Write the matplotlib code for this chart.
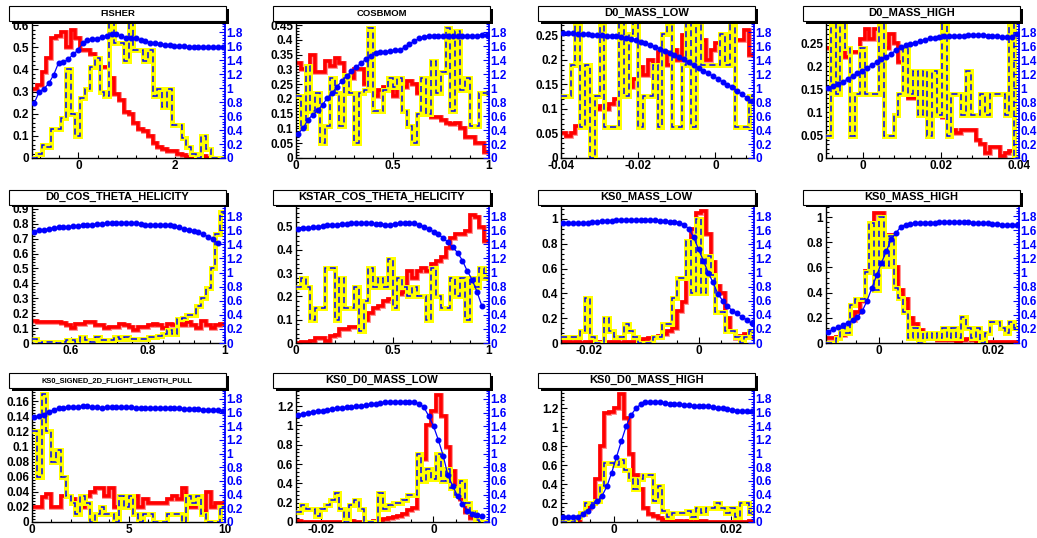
#%% IMPORTS
import numpy as np
import matplotlib
matplotlib.use('Agg')
import matplotlib.pyplot as plt
from matplotlib.patches import Rectangle
from matplotlib.ticker import FixedLocator, AutoMinorLocator, FuncFormatter

plt.rcParams['font.family'] = ['Liberation Sans', 'DejaVu Sans']

#%% CONSTANTS
W, H = 1037, 538
nan = np.nan

#%% DATA  (40 bins per histogram)
fisher_red = [0.31, 0.33, 0.39, 0.45, 0.54, 0.55, 0.57, 0.50, 0.58, 0.54, 0.49, 0.49, 0.47, 0.45, 0.41, 0.41, 0.36, 0.29, 0.26, 0.21,
              0.20, 0.16, 0.13, 0.12, 0.10, 0.07, 0.05, 0.04, 0.03, 0.03, 0.02, 0.015, 0.005, 0.0, 0.005, 0.01, 0.0, 0.0, 0.0, 0.0]
fisher_yel = [0.0, 0.02, 0.06, 0.05, 0.13, 0.13, 0.18, 0.40, 0.20, 0.10, 0.27, 0.31, 0.41, 0.45, 0.30, 0.28, 0.66, 0.52, 0.52, 0.44,
              0.66, 0.49, 0.49, 0.44, 0.49, 0.28, 0.31, 0.23, 0.31, 0.15, 0.15, 0.09, 0.05, 0.02, 0.0, 0.10, 0.04, 0.0, 0.0, 0.0]
fisher_eff = [0.79, 0.95, 0.99, 1.07, 1.19, 1.36, 1.37, 1.41, 1.48, 1.54, 1.64, 1.68, 1.70, 1.70, 1.73, 1.74, 1.77, 1.77, 1.74, 1.72,
              1.71, 1.71, 1.69, 1.67, 1.65, 1.64, 1.63, 1.62, 1.61, 1.60, 1.60, 1.60, 1.59, 1.59, 1.59, 1.59, 1.59, 1.59, 1.59, 1.59]

cosb_red = [0.32, 0.30, 0.30, 0.35, 0.29, 0.29, 0.33, 0.31, 0.34, 0.32, 0.27, 0.27, 0.30, 0.30, 0.25, 0.25, 0.21, 0.23, 0.24, 0.25,
            0.21, 0.24, 0.24, 0.26, 0.25, 0.22, 0.17, 0.18, 0.14, 0.14, 0.13, 0.12, 0.115, 0.12, 0.10, 0.07, 0.07, 0.05, 0.05, 0.02]
cosb_yel = [0.21, 0.10, 0.31, 0.16, 0.22, 0.05, 0.11, 0.27, 0.22, 0.11, 0.28, 0.22, 0.05, 0.22, 0.23, 0.44, 0.16, 0.16, 0.23, 0.27,
            0.24, 0.27, 0.16, 0.11, 0.05, 0.15, 0.27, 0.15, 0.33, 0.22, 0.29, 0.44, 0.16, 0.43, 0.23, 0.27, 0.11, 0.11, 0.22, 0.22]
cosb_eff = [0.35, 0.43, 0.55, 0.62, 0.68, 0.76, 0.86, 0.93, 1.02, 1.10, 1.17, 1.24, 1.30, 1.36, 1.41, 1.46, 1.50, 1.52, 1.52, 1.53,
            1.54, 1.55, 1.58, 1.63, 1.67, 1.71, 1.73, 1.75, 1.75, 1.74, 1.74, 1.75, 1.75, 1.74, 1.75, 1.75, 1.75, 1.75, 1.76, 1.76]

d0low_red = [0.05, 0.045, 0.05, 0.065, 0.075, 0.085, 0.095, 0.10, 0.105, 0.10, 0.11, 0.12, 0.145, 0.155, 0.145, 0.16, 0.185, 0.17, 0.20, 0.19,
             0.215, 0.215, 0.19, 0.22, 0.20, 0.25, 0.27, 0.22, 0.25, 0.24, 0.20, 0.22, 0.235, 0.23, 0.24, 0.26, 0.24, 0.24, 0.26, 0.21]
d0low_yel = [0.127, 0.127, 0.19, 0.317, 0.063, 0.19, 0.0, 0.127, 0.317, 0.063, 0.063, 0.063, 0.317, 0.127, 0.253, 0.317, 0.063, 0.127, 0.127, 0.19,
             0.063, 0.253, 0.317, 0.063, 0.063, 0.19, 0.317, 0.063, 0.317, 0.19, 0.19, 0.19, 0.19, 0.253, 0.19, 0.317, 0.063, 0.063, 0.063, 0.127]
d0low_eff = [1.78, 1.78, 1.78, 1.77, 1.77, 1.77, 1.76, 1.76, 1.76, 1.75, 1.75, 1.74, 1.73, 1.71, 1.70, 1.68, 1.66, 1.64, 1.62, 1.59,
             1.56, 1.53, 1.50, 1.47, 1.44, 1.41, 1.37, 1.33, 1.29, 1.25, 1.21, 1.17, 1.13, 1.09, 1.05, 1.01, 0.96, 0.91, 0.86, 0.81]

d0high_red = [0.24, 0.28, 0.24, 0.25, 0.22, 0.23, 0.23, 0.26, 0.28, 0.26, 0.28, 0.24, 0.24, 0.27, 0.25, 0.21, 0.18, 0.13, 0.13, 0.12,
              0.11, 0.11, 0.12, 0.10, 0.09, 0.08, 0.06, 0.055, 0.06, 0.06, 0.06, 0.04, 0.03, 0.01, 0.025, 0.025, 0.005, 0.01, 0.015, 0.0]
d0high_yel = [0.047, 0.33, 0.14, 0.33, 0.24, 0.047, 0.14, 0.24, 0.14, 0.14, 0.14, 0.33, 0.047, 0.047, 0.094, 0.14, 0.24, 0.14, 0.19, 0.094,
              0.19, 0.047, 0.19, 0.094, 0.33, 0.047, 0.14, 0.14, 0.094, 0.19, 0.094, 0.094, 0.14, 0.094, 0.14, 0.14, 0.14, 0.094, 0.33, 0.0]
d0high_eff = [1.00, 1.03, 1.06, 1.09, 1.13, 1.17, 1.21, 1.25, 1.29, 1.33, 1.37, 1.41, 1.45, 1.49, 1.54, 1.58, 1.61, 1.63, 1.65, 1.67,
              1.69, 1.71, 1.72, 1.73, 1.74, 1.74, 1.75, 1.75, 1.75, 1.76, 1.76, 1.76, 1.76, 1.75, 1.75, 1.74, 1.73, 1.73, 1.73, 1.77]

d0cos_red = [0.15, 0.14, 0.14, 0.14, 0.14, 0.14, 0.135, 0.12, 0.10, 0.13, 0.13, 0.14, 0.14, 0.12, 0.12, 0.10, 0.11, 0.11, 0.13, 0.12,
             0.11, 0.09, 0.11, 0.11, 0.12, 0.13, 0.12, 0.10, 0.13, 0.12, 0.13, 0.12, 0.14, 0.12, 0.10, 0.145, 0.12, 0.10, 0.12, 0.13]
d0cos_yel = [0.03, 0.0, 0.01, 0.01, 0.01, 0.0, 0.01, 0.02, 0.02, 0.01, 0.04, 0.02, 0.01, 0.04, 0.02, 0.02, 0.02, 0.04, 0.03, 0.04,
             0.03, 0.03, 0.025, 0.025, 0.04, 0.04, 0.05, 0.06, 0.09, 0.06, 0.16, 0.17, 0.19, 0.19, 0.25, 0.30, 0.37, 0.50, 0.73, 0.88]
d0cos_eff = [1.58, 1.60, 1.61, 1.62, 1.63, 1.64, 1.65, 1.65, 1.66, 1.66, 1.67, 1.67, 1.68, 1.69, 1.69, 1.70, 1.70, 1.71, 1.71, 1.71,
             1.70, 1.71, 1.69, 1.68, 1.68, 1.68, 1.68, 1.67, 1.67, 1.66, 1.64, 1.62, 1.61, 1.59, 1.57, 1.54, 1.51, 1.47, 1.42, nan]

kstar_red = [0.0, 0.005, 0.005, 0.01, 0.02, 0.02, 0.01, 0.03, 0.035, 0.06, 0.06, 0.07, 0.07, 0.07, 0.10, 0.13, 0.15, 0.16, 0.18, 0.19,
             0.20, 0.21, 0.22, 0.31, 0.28, 0.31, 0.32, 0.31, 0.34, 0.35, 0.37, 0.41, 0.45, 0.47, 0.47, 0.48, 0.55, 0.54, 0.50, 0.44]
kstar_yel = [0.24, 0.28, 0.24, 0.10, 0.15, 0.15, 0.32, 0.32, 0.10, 0.28, 0.15, 0.15, 0.24, 0.05, 0.18, 0.32, 0.24, 0.28, 0.24, 0.36,
             0.15, 0.28, 0.24, 0.20, 0.24, 0.20, 0.20, 0.10, 0.32, 0.20, 0.15, 0.15, 0.28, 0.20, 0.28, 0.10, 0.28, 0.24, 0.32, 0.28]
kstar_eff = [1.62, 1.63, 1.63, 1.64, 1.65, 1.66, 1.67, 1.68, 1.68, 1.69, 1.69, 1.70, 1.70, 1.70, 1.71, 1.70, 1.69, 1.69, 1.68, 1.68,
             1.69, 1.70, 1.70, 1.70, 1.70, 1.68, 1.65, 1.62, 1.58, 1.54, 1.49, 1.43, 1.36, 1.28, 1.17, 1.02, 0.90, 0.73, 0.53, nan]

ks0low_red = [0.01, 0.01, 0.0, 0.005, 0.0, 0.005, 0.01, 0.005, 0.01, 0.0, 0.005, 0.01, 0.0, 0.005, 0.01, 0.01, 0.02, 0.03, 0.04, 0.05,
              0.06, 0.07, 0.10, 0.12, 0.26, 0.33, 0.55, 0.92, 1.05, 1.06, 0.88, 0.65, 0.46, 0.40, 0.20, 0.10, 0.04, 0.06, 0.07, 0.05]
ks0low_yel = [0.05, 0.05, 0.05, 0.05, 0.10, 0.36, 0.05, 0.0, 0.0, 0.20, 0.10, 0.05, 0.05, 0.15, 0.10, 0.05, 0.0, 0.0, 0.0, 0.05,
              0.05, 0.15, 0.15, 0.36, 0.52, 0.52, 0.82, 0.40, 1.0, 0.40, 0.70, 0.55, 0.25, 0.25, 0.10, 0.10, 0.05, 0.0, 0.05, 0.10]
ks0low_eff = [1.70, 1.70, 1.70, 1.70, 1.71, 1.71, 1.72, 1.72, 1.73, 1.73, 1.73, 1.74, 1.74, 1.74, 1.74, 1.74, 1.74, 1.74, 1.74, 1.74,
              1.73, 1.73, 1.72, 1.72, 1.71, 1.68, 1.62, 1.50, 1.33, 1.17, 1.00, 0.86, 0.70, 0.60, 0.52, 0.46, 0.42, 0.37, 0.33, 0.28]

ks0high_red = [0.04, 0.04, 0.05, 0.06, 0.12, 0.18, 0.25, 0.33, 0.57, 0.88, 1.03, 1.03, 0.86, 0.86, 0.60, 0.42, 0.35, 0.20, 0.15, 0.10,
               0.08, 0.05, 0.04, 0.02, 0.02, 0.02, 0.02, 0.01, 0.02, 0.03, 0.02, 0.01, 0.01, 0.005, 0.01, 0.005, 0.01, 0.01, 0.01, 0.005]
ks0high_yel = [0.0, 0.0, 0.04, 0.12, 0.08, 0.30, 0.35, 0.35, 0.56, 0.95, 0.42, 1.0, 0.61, 0.85, 0.44, 0.36, 0.25, 0.04, 0.12, 0.0,
               0.08, 0.04, 0.08, 0.04, 0.12, 0.04, 0.12, 0.04, 0.21, 0.12, 0.04, 0.12, 0.0, 0.08, 0.17, 0.17, 0.12, 0.08, 0.17, 0.12]
ks0high_eff = [0.16, 0.20, 0.22, 0.25, 0.29, 0.32, 0.37, 0.45, 0.60, 0.78, 0.96, 1.14, 1.30, 1.47, 1.56, 1.65, 1.68, 1.69, 1.70, 1.71,
               1.71, 1.71, 1.71, 1.72, 1.72, 1.72, 1.72, 1.72, 1.72, 1.72, 1.71, 1.70, 1.70, 1.70, 1.69, 1.69, 1.68, 1.67, 1.67, 1.67]

pull_red = [0.02, 0.02, 0.033, 0.037, 0.02, 0.02, 0.035, 0.035, 0.03, 0.025, 0.02, 0.035, 0.04, 0.045, 0.045, 0.035, 0.045, 0.02, 0.03, 0.02,
            0.035, 0.035, 0.02, 0.03, 0.025, 0.025, 0.025, 0.025, 0.03, 0.035, 0.03, 0.045, 0.02, 0.02, 0.03, 0.015, 0.04, 0.02, 0.025, 0.025]
pull_yel = [0.12, 0.06, 0.17, 0.12, 0.08, 0.095, 0.06, 0.035, 0.025, 0.01, 0.035, 0.025, 0.0, 0.01, 0.02, 0.01, 0.01, 0.0, 0.035, 0.02,
            0.035, 0.01, 0.0, 0.01, 0.01, 0.0, 0.0, 0.0, 0.01, 0.01, 0.01, 0.0, 0.035, 0.025, 0.035, 0.01, 0.0, 0.0, 0.0, 0.02]
pull_eff = [1.53, 1.55, 1.57, 1.61, 1.64, 1.66, 1.67, 1.68, 1.68, 1.68, 1.69, 1.69, 1.68, 1.68, 1.67, 1.68, 1.68, 1.68, 1.68, 1.68,
            1.68, 1.67, 1.67, 1.67, 1.67, 1.67, 1.67, 1.66, 1.66, 1.66, 1.66, 1.65, 1.65, 1.65, 1.65, 1.64, 1.64, 1.64, 1.64, 1.63]

ksd0low_red = [0.01, 0.0, 0.005, 0.0, 0.0, 0.005, 0.0, 0.0, 0.005, 0.0, 0.0, 0.01, 0.005, 0.0, 0.0, 0.005, 0.01, 0.02, 0.03, 0.04,
               0.05, 0.06, 0.08, 0.12, 0.15, 0.45, 0.65, 1.0, 1.15, 1.32, 1.10, 0.78, 0.53, 0.35, 0.24, 0.10, 0.04, 0.01, 0.0, 0.0]
ksd0low_yel = [0.10, 0.18, 0.13, 0.13, 0.06, 0.13, 0.18, 0.23, 0.30, 0.13, 0.0, 0.18, 0.23, 0.13, 0.0, 0.0, 0.0, 0.30, 0.13, 0.18,
               0.20, 0.20, 0.23, 0.28, 0.28, 0.70, 0.42, 0.55, 0.45, 0.70, 0.42, 0.55, 0.35, 0.28, 0.42, 0.20, 0.10, 0.02, 0.0, 0.0]
ksd0low_eff = [1.57, 1.58, 1.60, 1.61, 1.62, 1.63, 1.64, 1.65, 1.66, 1.67, 1.68, 1.68, 1.69, 1.70, 1.71, 1.72, 1.73, 1.74, 1.75, 1.75,
               1.76, 1.76, 1.76, 1.76, 1.75, 1.73, 1.68, 1.55, 1.40, 1.20, 0.97, 0.68, 0.52, 0.38, 0.27, 0.16, 0.11, 0.10, 0.09, nan]

ksd0high_red = [0.0, 0.0, 0.0, 0.0, 0.08, 0.15, 0.20, 0.45, 0.80, 1.15, 1.16, 1.20, 1.35, 1.10, 0.72, 0.50, 0.35, 0.15, 0.08, 0.06,
                0.04, 0.02, 0.02, 0.01, 0.01, 0.0, 0.01, 0.0, 0.01, 0.01, 0.0, 0.0, 0.0, 0.0, 0.0, 0.0, 0.0, 0.0, 0.0, 0.01]
ksd0high_yel = [0.0, 0.0, 0.0, 0.05, 0.10, 0.20, 0.20, 0.22, 0.38, 0.62, 0.62, 0.60, 0.65, 0.55, 0.45, 0.35, 0.45, 0.50, 0.50, 0.22,
                0.38, 0.12, 0.05, 0.10, 0.10, 0.10, 0.12, 0.05, 0.15, 0.10, 0.15, 0.15, 0.20, 0.15, 0.10, 0.15, 0.05, 0.20, 0.20, 0.10]
ksd0high_eff = [0.07, 0.08, 0.08, 0.08, 0.11, 0.16, 0.23, 0.30, 0.38, 0.52, 0.72, 0.95, 1.18, 1.40, 1.56, 1.66, 1.72, 1.75, 1.76, 1.76,
                1.75, 1.74, 1.73, 1.72, 1.72, 1.71, 1.71, 1.70, 1.70, 1.69, 1.69, 1.68, 1.67, 1.66, 1.65, 1.64, 1.63, 1.62, 1.62, 1.62]

titles = ['FISHER', 'COSBMOM', 'D0_MASS_LOW', 'D0_MASS_HIGH',
          'D0_COS_THETA_HELICITY', 'KSTAR_COS_THETA_HELICITY', 'KS0_MASS_LOW', 'KS0_MASS_HIGH',
          'KS0_SIGNED_2D_FLIGHT_LENGTH_PULL', 'KS0_D0_MASS_LOW', 'KS0_D0_MASS_HIGH']
title_sizes = [6.8, 6.8, 8, 8, 8, 8, 8, 8, 5.4, 8, 8]
reds = [fisher_red, cosb_red, d0low_red, d0high_red, d0cos_red, kstar_red,
        ks0low_red, ks0high_red, pull_red, ksd0low_red, ksd0high_red]
yellows = [fisher_yel, cosb_yel, d0low_yel, d0high_yel, d0cos_yel, kstar_yel,
           ks0low_yel, ks0high_yel, pull_yel, ksd0low_yel, ksd0high_yel]
effs = [fisher_eff, cosb_eff, d0low_eff, d0high_eff, d0cos_eff, kstar_eff,
        ks0low_eff, ks0high_eff, pull_eff, ksd0low_eff, ksd0high_eff]
x_ranges = [(-0.96, 3.04), (0, 1), (-0.04, 0.01), (-0.0095, 0.04),
            (0.5, 1.0), (0, 1), (-0.025, 0.01), (-0.0092, 0.0245),
            (0, 10), (-0.0245, 0.0099), (-0.009, 0.024)]
x_ticks = [[0, 2], [0, 0.5, 1], [-0.04, -0.02, 0], [0, 0.02, 0.04],
           [0.6, 0.8, 1], [0, 0.5, 1], [-0.02, 0], [0, 0.02],
           [0, 5, 10], [-0.02, 0], [0, 0.02]]
y_tops = [0.61, 0.457, 0.275, 0.294, 0.912, 0.584, 1.096, 1.08, 0.175, 1.367, 1.39]
y_steps = [0.1, 0.05, 0.05, 0.05, 0.1, 0.1, 0.2, 0.2, 0.02, 0.2, 0.2]
eff_top = 1.93

#%% LAYOUT (pixels)
col_left = [32, 296, 561, 826]
row_top = [23, 207, 390]
row_bot = [158, 343, 522]
ax_w = 193
tick_size = 8.5


def fmt(v, pos):
    return '%g' % round(v, 6)


fig = plt.figure(figsize=(W / 100, H / 100), dpi=100)

for i, title in enumerate(titles):
    r, c = divmod(i, 4)
    x0, top, bot = col_left[c], row_top[r], row_bot[r]
    ax = fig.add_axes([x0 / W, 1 - bot / H, ax_w / W, (bot - top) / H])

    lo, hi = x_ranges[i]
    edges = np.linspace(lo, hi, len(reds[i]) + 1)
    centers = 0.5 * (edges[:-1] + edges[1:])

    # red histogram with a soft pink rim, then yellow with blue dashes on top
    ax.stairs(reds[i], edges, baseline=None, color='#ff9090', lw=3.5, zorder=2)
    ax.stairs(reds[i], edges, baseline=None, color='#ff0000', lw=2.6, zorder=2)
    ax.stairs(yellows[i], edges, baseline=None, color='#ffff00', lw=3.6, zorder=3)
    ax.stairs(yellows[i], edges, baseline=None, color='#0000ff', lw=1.1,
              linestyle=(0, (4.0, 2.4)), zorder=4)
    ax.set_xlim(lo, hi)
    ax.set_ylim(0, y_tops[i])

    ax.xaxis.set_major_locator(FixedLocator(x_ticks[i]))
    ax.xaxis.set_minor_locator(AutoMinorLocator(5))
    ax.yaxis.set_major_locator(FixedLocator(np.arange(0, y_tops[i], y_steps[i])))
    ax.yaxis.set_minor_locator(AutoMinorLocator(5))
    ax.xaxis.set_major_formatter(FuncFormatter(fmt))
    ax.yaxis.set_major_formatter(FuncFormatter(fmt))
    ax.tick_params(which='both', direction='in', labelsize=tick_size, width=0.8)
    ax.tick_params(axis='y', pad=2)
    ax.tick_params(axis='x', pad=1.5)
    ax.tick_params(which='major', length=4)
    ax.tick_params(which='minor', length=2)
    for lab in ax.get_xticklabels() + ax.get_yticklabels():
        lab.set_fontweight('bold')
    ax.spines['top'].set_visible(False)
    ax.spines['right'].set_visible(False)
    ax.spines['left'].set_linewidth(1.0)
    ax.spines['bottom'].set_linewidth(1.0)

    # efficiency curve on the right-hand axis
    ax2 = ax.twinx()
    ax2.plot(centers, effs[i], '-o', color='#0000ff', lw=0.9, ms=3.3, zorder=5)
    ax2.set_ylim(0, eff_top)
    ax2.yaxis.set_major_locator(FixedLocator(np.arange(0, 1.81, 0.2)))
    ax2.yaxis.set_minor_locator(AutoMinorLocator(5))
    ax2.yaxis.set_major_formatter(FuncFormatter(fmt))
    ax2.tick_params(which='both', direction='in', labelsize=tick_size, pad=1,
                    colors='#0000ff', width=0.8)
    ax2.tick_params(which='major', length=4)
    ax2.tick_params(which='minor', length=2)
    for lab in ax2.get_yticklabels():
        lab.set_fontweight('bold')
    for s in ['top', 'left', 'bottom']:
        ax2.spines[s].set_visible(False)
    ax2.spines['right'].set_color('#0000ff')
    ax2.spines['right'].set_linewidth(1.3)

    # title box with shadow
    bx0, bx1 = x0 - 23, x0 + ax_w + 1
    by1 = top - 2.5
    by0 = by1 - 14.5
    fig.patches.append(Rectangle(((bx0 + 3) / W, 1 - (by1 + 3) / H), (bx1 - bx0) / W, (by1 - by0) / H,
                                 transform=fig.transFigure, facecolor='black', edgecolor='none', zorder=10))
    fig.patches.append(Rectangle((bx0 / W, 1 - by1 / H), (bx1 - bx0) / W, (by1 - by0) / H,
                                 transform=fig.transFigure, facecolor='white', edgecolor='black', lw=0.8, zorder=11))
    fig.text((bx0 + bx1) / 2 / W, 1 - (by0 + by1) / 2 / H, title, ha='center', va='center',
             fontsize=title_sizes[i], fontweight='bold', zorder=12)

fig.savefig('out.png', dpi=100)
